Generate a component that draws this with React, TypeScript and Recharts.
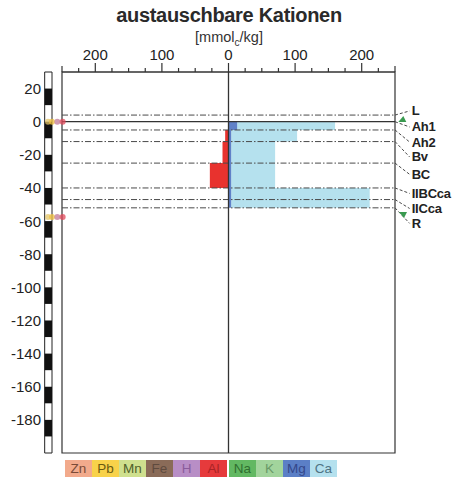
import React from 'react';
import { ComposedChart, Area, XAxis, YAxis, ReferenceLine, ReferenceArea, ReferenceDot } from 'recharts';

// ---- data ----
const horizonNames = ['L', 'Ah1', 'Ah2', 'Bv', 'BC', 'IIBCca', 'IICca', 'R'];
const horizonTops = [4, 0, -5, -12, -25, -40, -47, -52];

const sampleHorizons = ['Ah1', 'Ah2', 'Bv', 'BC', 'IIBCca', 'IICca'];
const sampleTops = [0, -5, -12, -25, -40, -47];
const sampleBottoms = [-5, -12, -25, -40, -47, -52];
const mgValues = [13, 4, 4, 4, 4, 4];
const caValues = [147, 99, 66, 66, 208, 208];
const alValues = [0, 5, 9, 28, 0, 0];

const depthTicks = [20, 0, -20, -40, -60, -80, -100, -120, -140, -160, -180];
const majorValueTicks = [-200, -100, 0, 100, 200];

const legendKeys = ['Zn', 'Pb', 'Mn', 'Fe', 'H', 'Al', 'Na', 'K', 'Mg', 'Ca'];
const markerDepths = [0, -57.5];

// ---- styles / layout ----
const FONT = '"Liberation Sans", Arial, Helvetica, sans-serif';
const legendColors: Record<string, string> = {
  Zn: '#f2aa8c', Pb: '#f8d24a', Mn: '#cfe08e', Fe: '#8a6b58', H: '#b88ec6',
  Al: '#e63a3c', Na: '#62b862', K: '#a2d49c', Mg: '#5b7fc6', Ca: '#b5e1ee',
};
const legendText: Record<string, string> = {
  Zn: '#7a4a38', Pb: '#6a5a10', Mn: '#4f5f2a', Fe: '#5e4a3e', H: '#8a5c9c',
  Al: '#a82426', Na: '#2f6f30', K: '#6a9a68', Mg: '#34478a', Ca: '#4f7484',
};
const FILL_CA = '#b5e1ee';
const FILL_MG = '#4f73c2';
const FILL_AL = '#e8322e';
const LINE = '#333';
const DASH = '6 2 1.5 2';
const labelDepths = [6.5, -3.2, -12.3, -21.3, -31.8, -43.3, -52.4, -61.4];
const markerColors = ['#e2c468', '#f0c040', '#c07a98', '#e0485a'];
const markerXs = [-271, -265, -257, -249];

const profileData = sampleHorizons.flatMap((h, i) => {
  const row = (depth: number) => ({
    horizon: h,
    depth,
    mg: mgValues[i],
    ca: [mgValues[i], mgValues[i] + caValues[i]],
    al: -alValues[i],
  });
  return [row(sampleTops[i]), row(sampleBottoms[i])];
});

const valueTicks: number[] = [];
for (let v = -250; v <= 250; v += 25) valueTicks.push(v);

const stripeBlocks: number[] = [];
for (let k = -20; k <= 2; k++) if (Math.abs(k) % 2 === 1) stripeBlocks.push(k * 10);

const XTick = (props: any) => {
  const { x, y, payload } = props;
  const v = payload.value;
  const major = majorValueTicks.includes(v);
  const end = Math.abs(v) === 250;
  const len = major ? 9 : end ? 6 : 4;
  return (
    <g>
      <line x1={x} x2={x} y1={y} y2={y - len} stroke={LINE} strokeWidth={1.2} />
      {major && (
        <text x={x} y={y - 12} textAnchor="middle" fontSize={15} fill="#222" fontFamily={FONT}>
          {Math.abs(v)}
        </text>
      )}
    </g>
  );
};

const YTick = (props: any) => {
  const { x, y, payload } = props;
  return (
    <text x={x - 21} y={y + 5.5} textAnchor="end" fontSize={15} fill="#222" fontFamily={FONT}>
      {payload.value}
    </text>
  );
};

export default function App() {
  return (
    <div style={{ position: 'absolute', left: 0, top: 0, width: 460, height: 479, background: '#fff', fontFamily: FONT }}>
      <div style={{ position: 'absolute', left: 0, top: 4, width: 458, textAlign: 'center', fontSize: 20, fontWeight: 'bold', color: '#2a2a2a', letterSpacing: -0.3 }}>
        austauschbare Kationen
      </div>
      <div style={{ position: 'absolute', left: 0, top: 29, width: 458, textAlign: 'center', fontSize: 14.5, color: '#333', lineHeight: '16px' }}>
        [mmol<sub style={{ fontSize: 10 }}>c</sub>/kg]
      </div>
      <div style={{ position: 'absolute', left: 0, top: 0 }}>
        <ComposedChart
          width={460}
          height={479}
          layout="vertical"
          data={profileData}
          margin={{ top: 52, right: 65, bottom: 26, left: 0 }}
        >
          <XAxis
            type="number"
            orientation="top"
            domain={[-250, 250]}
            ticks={valueTicks}
            interval={0}
            height={20}
            tickSize={0}
            tickMargin={0}
            tickLine={false}
            axisLine={{ stroke: LINE, strokeWidth: 1.2 }}
            tick={<XTick />}
            allowDataOverflow
          />
          <YAxis
            type="number"
            dataKey="depth"
            domain={[-200, 30]}
            ticks={depthTicks}
            interval={0}
            reversed
            width={62}
            tickSize={0}
            tickMargin={0}
            tickLine={false}
            axisLine={false}
            tick={<YTick />}
            allowDataOverflow
          />

          <Area dataKey="ca" fill={FILL_CA} fillOpacity={1} stroke="none" type="linear" isAnimationActive={false} />
          <Area dataKey="mg" fill={FILL_MG} fillOpacity={0.9} stroke="none" type="linear" isAnimationActive={false} />
          <Area dataKey="al" fill={FILL_AL} fillOpacity={1} stroke="none" type="linear" isAnimationActive={false} />

          {horizonTops.filter((t) => t !== 0).map((t) => (
            <ReferenceLine key={`h${t}`} y={t} stroke="#4a4a4a" strokeWidth={1} strokeDasharray={DASH} />
          ))}
          <ReferenceLine y={0} stroke={LINE} strokeWidth={1.3} />
          <ReferenceLine x={0} stroke={LINE} strokeWidth={1.3} />

          <ReferenceArea x1={-250} x2={250} y1={-200} y2={30} fill="none" fillOpacity={0} stroke={LINE} strokeWidth={1.2} ifOverflow="visible" />

          {/* depth stripe */}
          <ReferenceArea x1={-276} x2={-265} y1={-200} y2={30} fill="#fff" fillOpacity={1} stroke="#222" strokeWidth={1} ifOverflow="visible" />
          {stripeBlocks.map((b) => (
            <ReferenceArea key={`s${b}`} x1={-276} x2={-265} y1={b} y2={b + 10} fill="#111" fillOpacity={1} stroke="none" ifOverflow="visible" />
          ))}

          {markerDepths.flatMap((d) =>
            markerXs.map((mx, j) => (
              <ReferenceDot key={`m${d}-${j}`} x={mx} y={d} r={3} fill={markerColors[j]} fillOpacity={0.75} stroke="none" ifOverflow="visible" />
            ))
          )}

          {/* leader lines */}
          {horizonTops.map((t, i) => (
            <ReferenceLine
              key={`ld${i}`}
              segment={[{ x: 250, y: t }, { x: 272, y: labelDepths[i] }]}
              stroke="#4a4a4a"
              strokeWidth={1}
              strokeDasharray="3 2"
              ifOverflow="visible"
            />
          ))}
          <ReferenceDot x={261} y={1.6} r={3} ifOverflow="visible"
            shape={(p: any) => <polygon points={`${p.cx - 4},${p.cy + 3} ${p.cx + 4},${p.cy + 3} ${p.cx + 1},${p.cy - 3}`} fill="#3a9a50" />} />
          <ReferenceDot x={262} y={-56.3} r={3} ifOverflow="visible"
            shape={(p: any) => <polygon points={`${p.cx - 4},${p.cy - 3} ${p.cx + 4},${p.cy - 3} ${p.cx + 1},${p.cy + 3}`} fill="#3a9a50" />} />

          {horizonNames.map((n, i) => (
            <ReferenceDot
              key={`lb${n}`}
              x={275}
              y={labelDepths[i]}
              r={0}
              ifOverflow="visible"
              shape={(p: any) => (
                <text x={p.cx} y={p.cy + 4.5} fontSize={13} fontWeight="bold" fill="#222" fontFamily={FONT} letterSpacing={-0.2}>
                  {n}
                </text>
              )}
            />
          ))}
        </ComposedChart>
      </div>
      <div style={{ position: 'absolute', left: 65, top: 460, display: 'flex', height: 17 }}>
        {legendKeys.map((k, i) => (
          <div
            key={k}
            style={{
              width: 27,
              height: 17,
              marginLeft: i === 6 ? 2 : 0,
              background: legendColors[k],
              color: legendText[k],
              fontSize: 13.5,
              lineHeight: '17px',
              textAlign: 'center',
            }}
          >
            {k}
          </div>
        ))}
      </div>
    </div>
  );
}
